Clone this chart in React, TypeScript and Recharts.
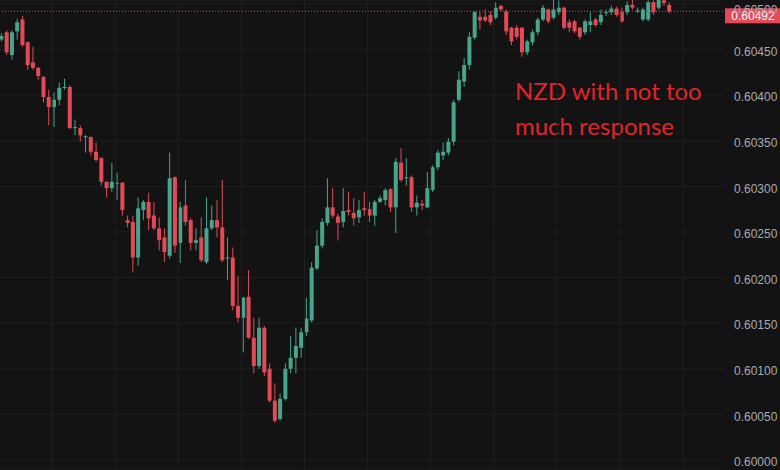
import React from "react";
import {
  Bar,
  CartesianGrid,
  ComposedChart,
  Customized,
  ReferenceLine,
  XAxis,
  YAxis,
} from "recharts";

// NZDUSD candles (oldest -> newest)
const open = [
  0.60461, 0.60469, 0.60444, 0.6047, 0.60483, 0.60458, 0.60436, 0.6043, 0.6042, 0.60398,
  0.60387, 0.60395, 0.60408, 0.60409, 0.60364, 0.60364, 0.60354, 0.60354, 0.60338, 0.60331,
  0.60305, 0.60298, 0.60303, 0.60304, 0.60263, 0.60261, 0.60222, 0.60274, 0.60283, 0.60268,
  0.60254, 0.60244, 0.60224, 0.6031, 0.60238, 0.60279, 0.60263, 0.60238, 0.60244, 0.60217,
  0.60254, 0.60263, 0.60255, 0.60221, 0.60222, 0.60169, 0.60156, 0.60179, 0.60134, 0.60103,
  0.60145, 0.601, 0.60065, 0.60045, 0.60067, 0.601, 0.60112, 0.60123, 0.6014, 0.60153,
  0.6021, 0.60235, 0.6026, 0.60277, 0.60267, 0.60261, 0.60274, 0.60271, 0.60266, 0.60276,
  0.60275, 0.60268, 0.60283, 0.60285, 0.60297, 0.60277, 0.60326, 0.60309, 0.6031, 0.60277,
  0.60281, 0.60277, 0.60296, 0.60321, 0.60334, 0.60337, 0.60349, 0.60395, 0.60415, 0.60433,
  0.60463, 0.60486, 0.60486, 0.60488, 0.60485, 0.60498, 0.60492, 0.60474, 0.60474, 0.60474,
  0.60447, 0.60458, 0.60469, 0.60483, 0.60494, 0.60485, 0.60491, 0.60496, 0.6048, 0.60481,
  0.60474, 0.60469, 0.60477, 0.60483, 0.6048, 0.6049, 0.60491, 0.60495, 0.60491, 0.60491,
  0.60499, 0.60492, 0.60483, 0.60483, 0.60502, 0.60496, 0.60504, 0.60499,
];
const close = [
  0.60465, 0.60447, 0.60469, 0.6048, 0.60455, 0.60433, 0.6043, 0.60421, 0.60398, 0.60387,
  0.60395, 0.60408, 0.60409, 0.60364, 0.60365, 0.60356, 0.60355, 0.60338, 0.60329, 0.60305,
  0.60298, 0.60305, 0.60304, 0.60274, 0.6026, 0.60222, 0.60276, 0.60283, 0.60265, 0.60254,
  0.60241, 0.60228, 0.60309, 0.60235, 0.60277, 0.60261, 0.60238, 0.60241, 0.60219, 0.60254,
  0.60263, 0.60255, 0.60219, 0.60222, 0.60169, 0.60156, 0.60178, 0.60134, 0.60103, 0.60145,
  0.60096, 0.60065, 0.60043, 0.60067, 0.601, 0.60112, 0.60125, 0.6014, 0.60155, 0.60211,
  0.60235, 0.60261, 0.60277, 0.60268, 0.6026, 0.60273, 0.60272, 0.60265, 0.60274, 0.60274,
  0.60268, 0.60283, 0.60287, 0.60296, 0.60277, 0.60327, 0.60307, 0.6031, 0.60277, 0.60282,
  0.60279, 0.60298, 0.60321, 0.60337, 0.60338, 0.60349, 0.60392, 0.60417, 0.60433, 0.60464,
  0.60491, 0.60482, 0.60482, 0.6048, 0.60496, 0.60494, 0.6047, 0.60459, 0.60464, 0.60447,
  0.60459, 0.60469, 0.60483, 0.60496, 0.60481, 0.60494, 0.60496, 0.60474, 0.60474, 0.6047,
  0.60464, 0.60481, 0.60481, 0.60477, 0.60488, 0.60491, 0.60495, 0.60488, 0.60481, 0.60499,
  0.60496, 0.60493, 0.60494, 0.60502, 0.60491, 0.60505, 0.60501, 0.60492,
];
const high = [
  0.60468, 0.60471, 0.60471, 0.60484, 0.60487, 0.60459, 0.60453, 0.60431, 0.60421, 0.60406,
  0.60403, 0.60414, 0.60418, 0.60411, 0.60373, 0.60367, 0.60356, 0.60355, 0.60348, 0.60332,
  0.60306, 0.60326, 0.60315, 0.60305, 0.60268, 0.60268, 0.60288, 0.60285, 0.60293, 0.60283,
  0.60266, 0.60254, 0.60337, 0.60311, 0.60283, 0.60307, 0.60265, 0.60254, 0.60266, 0.60288,
  0.60279, 0.60285, 0.60307, 0.60244, 0.60233, 0.60202, 0.60179, 0.60208, 0.60156, 0.60156,
  0.60147, 0.60106, 0.60084, 0.60073, 0.60106, 0.60136, 0.60145, 0.60145, 0.60178, 0.60217,
  0.60252, 0.60265, 0.60309, 0.60298, 0.6027, 0.60298, 0.60294, 0.60287, 0.60285, 0.60294,
  0.60283, 0.60285, 0.6029, 0.60298, 0.60298, 0.60331, 0.60342, 0.60331, 0.60312, 0.6029,
  0.60285, 0.60316, 0.60323, 0.6034, 0.60348, 0.60353, 0.60395, 0.60426, 0.60441, 0.60469,
  0.60492, 0.60492, 0.60494, 0.60492, 0.60502, 0.60499, 0.60494, 0.60475, 0.60477, 0.60475,
  0.60461, 0.60472, 0.60485, 0.60499, 0.60495, 0.60505, 0.60504, 0.60497, 0.60483, 0.60483,
  0.60475, 0.60483, 0.60491, 0.60485, 0.60494, 0.60494, 0.60498, 0.60497, 0.60496, 0.60503,
  0.60505, 0.60496, 0.60496, 0.60504, 0.60504, 0.60507, 0.60507, 0.60502,
];
const low = [
  0.60459, 0.60444, 0.60439, 0.60461, 0.60453, 0.60428, 0.60428, 0.60417, 0.60392, 0.60367,
  0.60365, 0.60389, 0.60406, 0.60363, 0.60356, 0.60349, 0.60337, 0.60334, 0.60327, 0.60301,
  0.60288, 0.60294, 0.60285, 0.60268, 0.60255, 0.60206, 0.60213, 0.60263, 0.60252, 0.60252,
  0.6023, 0.60217, 0.60221, 0.60227, 0.60216, 0.60257, 0.6023, 0.6023, 0.60217, 0.60215,
  0.60252, 0.60244, 0.60217, 0.60197, 0.60164, 0.60151, 0.60118, 0.60133, 0.60095, 0.601,
  0.60092, 0.60063, 0.60041, 0.60043, 0.60065, 0.60095, 0.60095, 0.60112, 0.60136, 0.60151,
  0.60208, 0.60232, 0.60257, 0.60265, 0.60241, 0.60255, 0.60268, 0.60257, 0.6026, 0.60268,
  0.60261, 0.60257, 0.60282, 0.60279, 0.60272, 0.60249, 0.60305, 0.60301, 0.60272, 0.60268,
  0.60274, 0.60276, 0.60294, 0.60318, 0.60329, 0.60334, 0.60345, 0.60393, 0.60409, 0.60428,
  0.60461, 0.60472, 0.6048, 0.60477, 0.60483, 0.60492, 0.60466, 0.60455, 0.60461, 0.60442,
  0.60444, 0.60455, 0.60466, 0.60481, 0.60479, 0.60483, 0.60488, 0.60472, 0.60469, 0.60468,
  0.60461, 0.60466, 0.60469, 0.60475, 0.60477, 0.60487, 0.60488, 0.60486, 0.60479, 0.60488,
  0.60494, 0.6049, 0.60481, 0.60481, 0.60488, 0.60494, 0.60498, 0.6049,
];

const priceTicks = [0.6, 0.6005, 0.601, 0.6015, 0.602, 0.6025, 0.603, 0.6035, 0.604, 0.6045, 0.605];
const timeTicks = [9.7, 21.7, 33.7, 45.7, 57.7, 69.7, 81.7, 93.7, 105.7, 117.7, 129.7];
const lastPrice = 0.60492;
const note = ["NZD with not too", "much response"];

const UP = "#46a58c";
const DOWN = "#e24b55";
const BG = "#131313";
const GRID = "#1f1f1f";

const data = open.map((o, i) => ({
  i,
  open: o,
  close: close[i],
  high: high[i],
  low: low[i],
}));

const Candle = (props: any) => {
  const { x, y, width, height, payload } = props;
  if (!payload || height == null) return null;
  const { open: o, close: c, high: h, low: l } = payload;
  const color = c >= o ? UP : DOWN;
  const top = height < 0 ? y + height : y;
  const span = Math.abs(height);
  const k = span / (h - l || 1);
  const bodyTop = top + (h - Math.max(o, c)) * k;
  const bodyH = Math.max(1, Math.abs(o - c) * k);
  const cx = x + width / 2;
  return (
    <g>
      <line x1={cx} x2={cx} y1={top} y2={top + span} stroke={color} strokeWidth={1} />
      <rect x={x} y={bodyTop} width={width} height={bodyH} fill={color} />
    </g>
  );
};

const PriceTag = (props: any) => {
  const vb = props.viewBox;
  if (!vb) return null;
  const left = vb.x + vb.width + 2;
  return (
    <g>
      <rect x={left} y={vb.y - 3} width={56} height={15} fill={DOWN} />
      <text
        x={left + 28}
        y={vb.y + 9}
        textAnchor="middle"
        fill="#ffffff"
        fontSize={12}
        fontFamily="Liberation Sans, Arial, sans-serif"
      >
        {lastPrice.toFixed(5)}
      </text>
    </g>
  );
};

const Note = () => (
  <text fill="#e0242b" fontSize={24} fontFamily="Lato, sans-serif">
    <tspan x={515} y={100}>{note[0]}</tspan>
    <tspan x={515} y={135}>{note[1]}</tspan>
  </text>
);

export default function App() {
  return (
    <div style={{ position: "absolute", left: 0, top: 0, width: 780, height: 470, background: BG }}>
      <ComposedChart
        width={780}
        height={470}
        data={data}
        margin={{ top: 0, right: 0, bottom: 0, left: 0 }}
        style={{ background: BG }}
      >
        <CartesianGrid stroke={GRID} vertical={false} />
        {timeTicks.map((t) => (
          <ReferenceLine key={t} x={t} stroke={GRID} />
        ))}
        <XAxis
          dataKey="i"
          type="number"
          domain={[-0.2, 137.3]}
          ticks={timeTicks}
          allowDataOverflow
          hide
        />
        <YAxis
          orientation="right"
          domain={[0.59989, 0.605044]}
          allowDataOverflow
          ticks={priceTicks}
          width={57}
          tickLine={false}
          axisLine={false}
          tickSize={0}
          tickMargin={11}
          tickFormatter={(v: number) => v.toFixed(5)}
          tick={{ fill: "#a7aab1", fontSize: 12, dy: 2, fontFamily: "Liberation Sans, Arial, sans-serif" }}
        />
        <ReferenceLine
          y={lastPrice}
          stroke={DOWN}
          strokeDasharray="1 2"
          label={<PriceTag />}
        />
        <Bar
          dataKey={(d: any) => [d.low, d.high]}
          barSize={4}
          shape={<Candle />}
          isAnimationActive={false}
        />
        <Customized component={Note} />
      </ComposedChart>
    </div>
  );
}
